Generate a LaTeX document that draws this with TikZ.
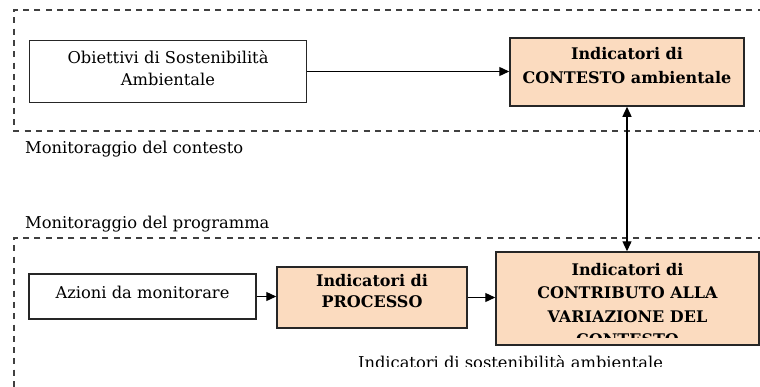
\documentclass[tikz,border=0pt]{standalone}
\usepackage{fontspec}
\setmainfont{DejaVu Serif}
\usetikzlibrary{arrows.meta}
\definecolor{peach}{RGB}{251,219,191}
\begin{document}
\begin{tikzpicture}[x=1bp,y=-1bp,
  box/.style={draw=black!85, line width=1.5bp, inner sep=0pt},
  plainbox/.style={box, fill=white},
  hibox/.style={box, fill=peach},
  txt/.style={inner sep=0pt, align=center, font=\fontsize{16.3bp}{21.7bp}\selectfont},
  btxt/.style={inner sep=0pt, align=center, font=\fontsize{16bp}{23.4bp}\selectfont\bfseries},
  zone/.style={draw=black!75, dash pattern=on 6bp off 5.3bp, line width=1.3bp},
  lbl/.style={anchor=base west, inner sep=0pt, font=\fontsize{16.3bp}{19bp}\selectfont},
  arr/.style={-{Triangle[length=10bp,width=9bp]}, line width=1.3bp},
  darr/.style={{Triangle[length=10bp,width=9bp]}-{Triangle[length=10bp,width=9bp]}, line width=1.3bp},
]
\useasboundingbox (0,0) rectangle (760,386);
\clip (0,0) rectangle (760,386);
\fill[white] (0,0) rectangle (760,386);
% zones
\draw[zone] (775,10) -- (14,10) -- (14,131) -- (775,131);
\draw[zone] (775,238) -- (14,238) -- (14,400);
\node[lbl] (lcont) at (25,153) {Monitoraggio del contesto};
\node[lbl] (lprog) at (25,228) {Monitoraggio del programma};
% boxes
\node[plainbox, minimum width=277bp, minimum height=62bp] (obj) at (168,71.5) {};
\node[txt, anchor=north] (objT) at (168,50.5) {Obiettivi di Sostenibilità\\Ambientale};
\node[hibox, minimum width=234bp, minimum height=68bp] (ctx) at (627,72) {};
\node[btxt, anchor=north] (ctxT) at (627,47.5) {Indicatori di\\CONTESTO ambientale};
\node[plainbox, minimum width=227bp, minimum height=45bp] (az) at (142.5,296.5) {};
\node[txt, anchor=base] (azT) at (142.5,298) {Azioni da monitorare};
\node[hibox, minimum width=190bp, minimum height=61bp] (proc) at (372,297.5) {};
\node[btxt, anchor=north, font=\fontsize{16bp}{21bp}\selectfont\bfseries] (procT) at (372,274.5) {Indicatori di\\PROCESSO};
\node[hibox, minimum width=263bp, minimum height=93bp] (contrib) at (627.5,298.5) {};
\begin{scope}
  \clip (496,252) rectangle (759,337.5);
  \node[btxt, anchor=north] (contribT) at (627.5,263) {Indicatori di\\CONTRIBUTO ALLA\\VARIAZIONE DEL\\CONTESTO};
\end{scope}
\begin{scope}
  \clip (330,340) rectangle (700,366.5);
  \node[lbl, anchor=base] (sost) at (510.5,368.5) {Indicatori di sostenibilità ambientale};
\end{scope}
% connectors
\draw[arr] (obj.east) -- (ctx.west |- obj.east);
\draw[darr] (ctx.south) -- (ctx.south |- contrib.north);
\draw[arr] (az.east) -- (proc.west |- az.east);
\draw[arr] (proc.east) -- (contrib.west |- proc.east);
\end{tikzpicture}
\end{document}
